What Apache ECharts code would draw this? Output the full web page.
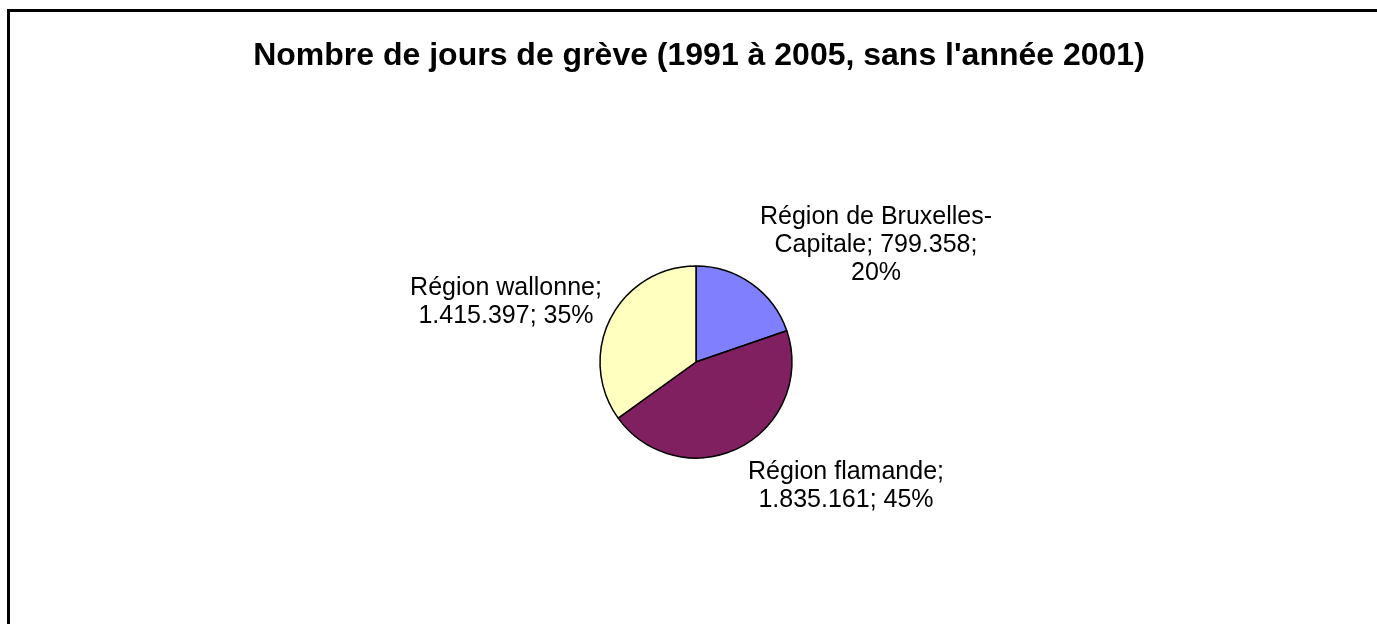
<!DOCTYPE html>
<html>
  <head>
    <meta charset="utf-8" />
    <title>Nombre de jours de grève</title>
    <style>
      html,
      body {
        height: 100%;
        margin: 0;
        padding: 0;
        background: #fff;
      }
      #chart-container {
        width: 1377px;
        height: 624px;
      }
    </style>
    <script src="https://cdn.jsdelivr.net/npm/echarts@6/dist/echarts.min.js"></script>
  </head>
  <body>
    <div id="chart-container"></div>

    <script>
      // données
      var regions = ["Région de Bruxelles-Capitale", "Région flamande", "Région wallonne"];
      var jours = [799358, 1835161, 1415397];
      var pourcents = [20, 45, 35];
      var couleurs = ["#8080ff", "#802060", "#ffffc0"];

      // texte des étiquettes, retours à la ligne comme dans l'original
      var etiquettes = [
        "Région de Bruxelles-\nCapitale; 799.358;\n20%",
        "Région flamande;\n1.835.161; 45%",
        "Région wallonne;\n1.415.397; 35%",
      ];
      // décalage du centre de chaque étiquette par rapport au centre du camembert
      var decalages = [
        [180, -117],
        [150, 124],
        [-190, -60],
      ];

      var centre = [696, 362];

      var myChart = echarts.init(document.getElementById("chart-container"), "", {
        renderer: "canvas",
      });

      var option = {
        backgroundColor: "#fff",
        animation: false,
        title: {
          text: "Nombre de jours de grève (1991 à 2005, sans l'année 2001)",
          left: 694,
          top: 51,
          textAlign: "center",
          textVerticalAlign: "middle",
          textStyle: {
            fontFamily: "Liberation Sans, Arial, sans-serif",
            fontWeight: "bold",
            fontSize: 32,
            color: "#000",
          },
        },
        graphic: [
          {
            type: "rect",
            shape: { x: 8.5, y: 10.5, width: 1500, height: 800 },
            style: { fill: null, stroke: "#000", lineWidth: 3 },
            silent: true,
          },
        ],
        series: [
          {
            type: "pie",
            center: centre,
            radius: 96,
            startAngle: 90,
            clockwise: true,
            data: regions.map(function (r, i) {
              return {
                name: r,
                value: jours[i],
                itemStyle: { color: couleurs[i] },
                label: { formatter: etiquettes[i] },
              };
            }),
            itemStyle: { borderColor: "#000", borderWidth: 1.5 },
            label: {
              show: true,
              position: "outside",
              color: "#000",
              fontFamily: "Liberation Sans, Arial, sans-serif",
              fontSize: 25,
              lineHeight: 28,
              align: "center",
            },
            labelLine: { show: false },
            labelLayout: function (params) {
              var d = decalages[params.dataIndex];
              return {
                x: centre[0] + d[0],
                y: centre[1] + d[1],
                align: "center",
                verticalAlign: "middle",
              };
            },
            emphasis: { disabled: true },
          },
        ],
      };

      myChart.setOption(option);
    </script>
  </body>
</html>
